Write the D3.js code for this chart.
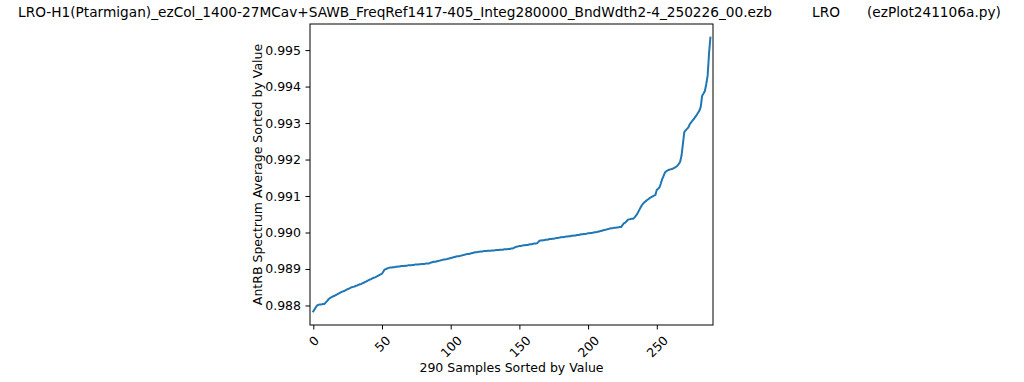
<!DOCTYPE html>
<html><head><meta charset="utf-8">
<script src="https://cdn.jsdelivr.net/npm/d3@7"></script>
<style>html,body{margin:0;padding:0;background:#fff;}svg{display:block;font-family:"DejaVu Sans",sans-serif;}</style>
</head><body>
<svg id="c" width="1024" height="382"></svg>
<script>
const titleMain = "LRO-H1(Ptarmigan)_ezCol_1400-27MCav+SAWB_FreqRef1417-405_Integ280000_BndWdth2-4_250226_00.ezb";
const titleSite = "LRO";
const titleScript = "(ezPlot241106a.py)";
const xLabel = "290 Samples Sorted by Value";
const yLabel = "AntRB Spectrum Average Sorted by Value";
const xTicks = [0, 50, 100, 150, 200, 250];
const yTicks = [0.988, 0.989, 0.990, 0.991, 0.992, 0.993, 0.994, 0.995];
const values = [
0.98784,0.98790,0.98796,0.98801,0.98802,0.98803,0.98803,0.98804,0.98804,0.98808,
0.98812,0.98817,0.98820,0.98822,0.98824,0.98826,0.98828,0.98830,0.98832,0.98834,
0.98836,0.98838,0.98839,0.98841,0.98843,0.98845,0.98846,0.98848,0.98850,0.98851,
0.98852,0.98854,0.98855,0.98857,0.98858,0.98859,0.98861,0.98863,0.98865,0.98867,
0.98869,0.98871,0.98872,0.98874,0.98876,0.98877,0.98879,0.98881,0.98883,0.98885,
0.98887,0.98893,0.98899,0.98900,0.98902,0.98903,0.98904,0.98904,0.98905,0.98905,
0.98906,0.98906,0.98907,0.98907,0.98908,0.98908,0.98908,0.98909,0.98909,0.98910,
0.98910,0.98910,0.98911,0.98911,0.98912,0.98912,0.98912,0.98913,0.98913,0.98914,
0.98914,0.98914,0.98915,0.98915,0.98915,0.98917,0.98918,0.98919,0.98920,0.98920,
0.98921,0.98922,0.98923,0.98924,0.98925,0.98926,0.98926,0.98927,0.98928,0.98929,
0.98930,0.98931,0.98932,0.98933,0.98934,0.98935,0.98935,0.98936,0.98937,0.98938,
0.98939,0.98940,0.98941,0.98941,0.98942,0.98943,0.98944,0.98945,0.98946,0.98946,
0.98947,0.98947,0.98948,0.98948,0.98949,0.98949,0.98949,0.98950,0.98950,0.98950,
0.98951,0.98951,0.98951,0.98952,0.98952,0.98952,0.98953,0.98953,0.98953,0.98954,
0.98954,0.98954,0.98955,0.98955,0.98956,0.98956,0.98958,0.98960,0.98961,0.98962,
0.98963,0.98963,0.98964,0.98965,0.98965,0.98966,0.98966,0.98967,0.98968,0.98968,
0.98969,0.98970,0.98970,0.98971,0.98975,0.98978,0.98978,0.98979,0.98979,0.98980,
0.98980,0.98981,0.98982,0.98982,0.98983,0.98983,0.98984,0.98985,0.98985,0.98986,
0.98987,0.98987,0.98988,0.98988,0.98989,0.98989,0.98990,0.98990,0.98991,0.98991,
0.98992,0.98992,0.98993,0.98993,0.98994,0.98995,0.98995,0.98996,0.98996,0.98997,
0.98998,0.98998,0.98999,0.98999,0.99000,0.99001,0.99001,0.99002,0.99003,0.99004,
0.99005,0.99006,0.99007,0.99008,0.99009,0.99010,0.99011,0.99012,0.99012,0.99013,
0.99013,0.99014,0.99014,0.99015,0.99015,0.99020,0.99025,0.99027,0.99031,0.99035,
0.99036,0.99037,0.99038,0.99038,0.99042,0.99047,0.99053,0.99060,0.99067,0.99074,
0.99079,0.99083,0.99086,0.99089,0.99092,0.99095,0.99097,0.99099,0.99101,0.99103,
0.99117,0.99120,0.99124,0.99135,0.99147,0.99156,0.99165,0.99168,0.99170,0.99172,
0.99173,0.99174,0.99176,0.99178,0.99180,0.99183,0.99188,0.99194,0.99211,0.99243,
0.99275,0.99280,0.99284,0.99288,0.99297,0.99302,0.99307,0.99311,0.99317,0.99322,
0.99328,0.99334,0.99345,0.99375,0.99381,0.99388,0.99407,0.99430,0.99490,0.99534
];

const svg = d3.select("#c");
const L = 310, R = 713, T = 24, B = 325;
const fs = 12.5;
const tfs = 13.7;

const x = d3.scaleLinear().domain([-2.4, 290.9]).range([L, R]);
const ymin = d3.min(values), ymax = d3.max(values), pad = (ymax - ymin) * 0.05;
const y = d3.scaleLinear().domain([ymin - pad, ymax + pad]).range([B, T]);

// line
svg.append("path")
  .datum(values)
  .attr("fill", "none")
  .attr("stroke", "#1f77b4")
  .attr("stroke-width", 2)
  .attr("stroke-linejoin", "round")
  .attr("stroke-linecap", "square")
  .attr("d", d3.line().x((d, i) => x(i)).y(d => y(d)));

// x axis
const gx = svg.append("g").attr("transform", `translate(0,${B})`)
  .call(d3.axisBottom(x).tickValues(xTicks).tickSize(4.5).tickPadding(0).tickFormat(d3.format("d")));
gx.select(".domain").remove();
gx.selectAll("line").attr("stroke", "#000").attr("stroke-width", 1);
gx.selectAll("text").each(function() {
  const t = d3.select(this);
  t.attr("font-size", fs).attr("font-family", "DejaVu Sans").attr("fill", "#000")
   .attr("dy", null).attr("y", 0).attr("text-anchor", "middle").attr("dominant-baseline", "central");
  const w = this.getComputedTextLength();
  const h = fs * 0.95;
  const off = 4.5 + 4.5 + (w + h) * 0.7071 / 2;
  t.attr("transform", `translate(0,${off}) rotate(-45)`);
});

// y axis
const gy = svg.append("g").attr("transform", `translate(${L},0)`)
  .call(d3.axisLeft(y).tickValues(yTicks).tickSize(4.5).tickPadding(4.5).tickFormat(d3.format(".3f")));
gy.select(".domain").remove();
gy.selectAll("line").attr("stroke", "#000").attr("stroke-width", 1);
gy.selectAll("text").attr("font-size", fs).attr("font-family", "DejaVu Sans").attr("fill", "#000");

// frame
svg.append("rect").attr("x", L).attr("y", T).attr("width", R - L).attr("height", B - T)
  .attr("fill", "none").attr("stroke", "#000").attr("stroke-width", 1);

// labels
svg.append("text").attr("x", (L + R) / 2).attr("y", 372).attr("text-anchor", "middle")
  .attr("font-size", fs).attr("fill", "#000").text(xLabel);
svg.append("text").attr("transform", `translate(262,${(T + B) / 2}) rotate(-90)`).attr("text-anchor", "middle")
  .attr("font-size", fs).attr("fill", "#000").text(yLabel);

// title
svg.append("text").attr("x", 18).attr("y", 17).attr("font-size", tfs).attr("fill", "#000").text(titleMain);
svg.append("text").attr("x", 812).attr("y", 17).attr("font-size", tfs).attr("fill", "#000").text(titleSite);
svg.append("text").attr("x", 867).attr("y", 17).attr("font-size", tfs).attr("fill", "#000").text(titleScript);
</script>
</body></html>
